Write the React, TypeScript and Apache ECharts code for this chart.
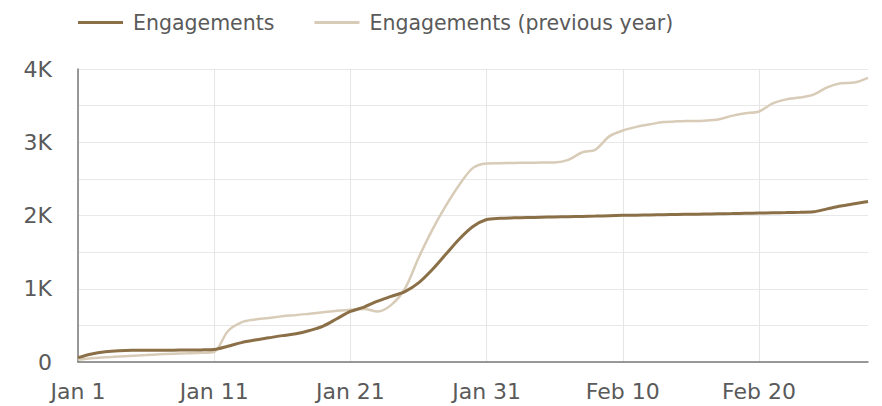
import React, { useEffect, useRef } from "react";
import * as echarts from "echarts";

const months = ["Jan", "Feb"];
const monthDays = [31, 28];
const yTickLabels = ["0", "1K", "2K", "3K", "4K"];

const engagements = [
  60, 110, 140, 155, 160, 160, 160, 162, 163, 165,
  170, 215, 265, 300, 330, 360, 385, 430, 490, 590,
  690, 750, 830, 895, 960, 1080, 1260, 1470, 1680, 1850,
  1945, 1962, 1968, 1972, 1976, 1980, 1984, 1988, 1992, 1997,
  2002, 2005, 2008, 2011, 2014, 2017, 2020, 2023, 2026, 2030,
  2034, 2037, 2040, 2044, 2050, 2090, 2130, 2160, 2190,
];

const engagementsPrev = [
  30, 50, 65, 75, 85, 95, 105, 112, 118, 125,
  140, 420, 540, 580, 600, 625, 640, 660, 680, 700,
  712, 725, 690, 780, 1000, 1420, 1800, 2130, 2420, 2650,
  2710, 2715, 2718, 2720, 2722, 2725, 2760, 2860, 2900, 3080,
  3160, 3210, 3245, 3275, 3285, 3290, 3295, 3310, 3360, 3395,
  3420, 3530, 3585, 3610, 3650, 3750, 3805, 3815, 3880,
];

const seriesNames = ["Engagements", "Engagements (previous year)"];
const colors = ["#8a6f47", "#d8ccb8"];

const categories: string[] = [];
months.forEach((m, i) => {
  for (let d = 1; d <= monthDays[i]; d++) categories.push(`${m} ${d}`);
});

const FONT = "DejaVu Sans";

export default function App() {
  const ref = useRef<HTMLDivElement>(null);
  useEffect(() => {
    const chart = echarts.init(ref.current!, undefined, { renderer: "svg" });
    chart.setOption({
      animation: false,
      color: colors,
      textStyle: { fontFamily: FONT },
      legend: {
        left: 73,
        top: 7,
        icon: "rect",
        itemWidth: 45,
        itemHeight: 3,
        itemGap: 40,
        textStyle: { fontSize: 20.5, color: "#5a5a5a", fontFamily: FONT, padding: [0, 0, 0, 5] },
        data: seriesNames,
      },
      grid: { left: 78, right: 14, top: 69, bottom: 44, containLabel: false },
      xAxis: {
        type: "category",
        data: categories,
        boundaryGap: false,
        axisLine: { lineStyle: { color: "#7a7a7a", width: 1.5 } },
        axisTick: { show: false },
        axisLabel: {
          interval: 9,
          fontSize: 22,
          color: "#5a5a5a",
          margin: 18,
          fontFamily: FONT,
        },
        splitLine: { show: true, interval: 9, lineStyle: { color: "#e6e6e6", width: 1 } },
      },
      yAxis: {
        type: "value",
        min: 0,
        max: 4000,
        interval: 500,
        axisLine: { show: true, lineStyle: { color: "#7a7a7a", width: 1.5 } },
        axisTick: { show: false },
        axisLabel: {
          fontSize: 22,
          color: "#5a5a5a",
          margin: 26,
          fontFamily: FONT,
          formatter: (v: number) => (v % 1000 === 0 ? yTickLabels[v / 1000] : ""),
        },
        splitLine: { lineStyle: { color: "#e8e8e8", width: 1 } },
      },
      series: [
        {
          name: seriesNames[1],
          type: "line",
          data: engagementsPrev,
          symbol: "none",
          smooth: 0.3,
          lineStyle: { width: 2.5, color: colors[1] },
          itemStyle: { color: colors[1] },
          z: 2,
        },
        {
          name: seriesNames[0],
          type: "line",
          data: engagements,
          symbol: "none",
          smooth: 0.3,
          lineStyle: { width: 3, color: colors[0] },
          itemStyle: { color: colors[0] },
          z: 3,
        },
      ],
    });
    return () => chart.dispose();
  }, []);
  return <div ref={ref} style={{ width: 882, height: 406, position: "absolute", left: 0, top: 0 }} />;
}
